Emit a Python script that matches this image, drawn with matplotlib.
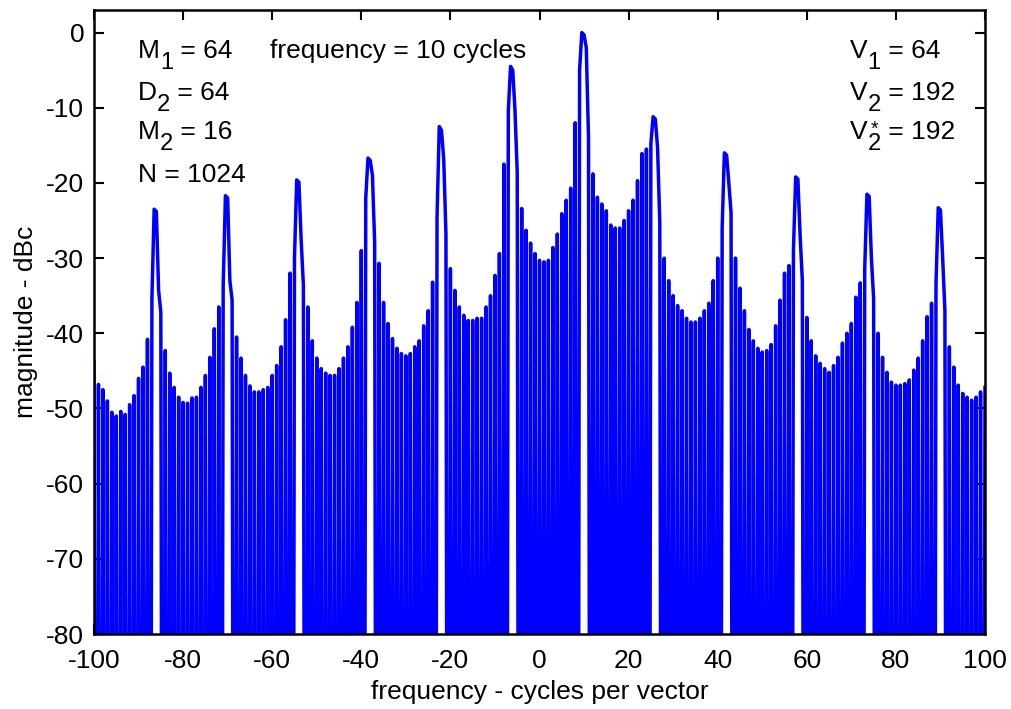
import numpy as np
import matplotlib
matplotlib.use("Agg")
import matplotlib.pyplot as plt

plt.rcParams['font.family'] = ['Liberation Sans', 'DejaVu Sans']
plt.rcParams['axes.unicode_minus'] = False

# envelope of the spectrum at each whole cycle, -100 .. 100 (dBc)
env_db = [
    -43.8, -46.8, -47.5, -49.0, -50.5, -51.0, -50.4, -50.8, -49.5, -48.3,
    -46.0, -44.5, -40.8, -35.4, -23.8, -37.2, -42.3, -45.3, -47.2, -48.5,
    -49.2, -49.3, -48.6, -48.5, -47.2, -45.6, -43.2, -39.4, -36.5, -33.6,
    -22.0, -35.6, -40.5, -43.3, -45.6, -47.0, -47.8, -47.8, -47.5, -47.2,
    -45.6, -44.3, -41.8, -38.2, -32.0, -30.0, -19.9, -33.6, -36.5, -41.0,
    -43.3, -44.7, -45.3, -45.6, -45.6, -44.7, -43.3, -41.8, -39.2, -35.9,
    -29.0, -22.0, -17.0, -28.0, -30.7, -35.9, -38.7, -40.7, -42.0, -42.7,
    -43.0, -42.7, -41.8, -41.0, -39.0, -37.0, -33.2, -24.6, -13.0, -26.8,
    -31.4, -34.3, -36.5, -37.6, -38.3, -38.3, -38.0, -38.0, -36.5, -35.0,
    -32.3, -29.4, -17.5, -10.5, -5.0, -18.6, -23.4, -26.3, -28.0, -29.4,
    -30.3, -30.5, -30.3, -28.6, -26.8, -24.1, -22.3, -20.7, -12.0, -5.0,
    -0.3, -14.0, -18.8, -21.9, -22.8, -23.7, -25.6, -26.0, -26.0, -25.0,
    -23.7, -22.3, -19.7, -16.1, -15.5, -14.8, -11.5, -25.2, -30.0, -33.0,
    -35.0, -36.3, -37.0, -38.0, -38.5, -38.5, -38.0, -37.0, -36.0, -33.0,
    -30.0, -26.0, -16.3, -24.0, -30.0, -34.0, -37.0, -39.5, -41.0, -42.0,
    -42.5, -42.3, -41.5, -39.0, -35.6, -32.0, -31.0, -29.0, -19.5, -33.0,
    -37.9, -41.0, -43.0, -44.0, -44.7, -45.2, -44.3, -43.2, -41.3, -40.0,
    -38.7, -35.2, -33.3, -31.5, -21.8, -35.4, -40.0, -43.2, -45.2, -46.5,
    -46.9, -46.9, -46.7, -46.2, -44.9, -43.3, -41.0, -37.8, -36.0, -33.4,
    -23.6, -37.0, -41.8, -44.5, -46.9, -48.0, -48.5, -48.9, -48.5, -47.8,
    -47.2,
]

# spectral images of the 10 cycle tone
peak_freq = [-86, -70, -54, -38, -22, -6, 10, 26, 42, 58, 74, 90]
peak_top_db = [-23.5, -21.7, -19.6, -16.7, -12.5, -4.5, 0.0, -11.2, -16.0, -19.2, -21.5, -23.3]
peak_fall_db = [-34.3, -33.0, -27.6, -19.0, -16.8, -10.4, -2.0, -15.3, -20.0, -27.0, -30.0, -30.0]

null_db = -200.0   # nulls between bins, far below the axis

freq = np.arange(-100, 100.5, 0.5)
mag = np.full(len(freq), null_db)
mag[0::2] = env_db
for p, top, fall in zip(peak_freq, peak_top_db, peak_fall_db):
    mag[int((p - 0.5 + 100) * 2)] = top
    mag[int((p + 0.5 + 100) * 2)] = fall

W, H = 1011, 709
FS = 19
fig = plt.figure(figsize=(W / 100, H / 100), dpi=100)
ax = fig.add_axes([94 / W, 75 / H, (985 - 94) / W, (634 - 10) / H])

ax.plot(freq, mag, color='#0000ff', lw=2.5)
ax.set_xlim(-100, 100)
ax.set_ylim(-80, 3)
ax.set_xticks(np.arange(-100, 101, 20))
ax.set_yticks(np.arange(-80, 1, 10))
ax.tick_params(direction='in', top=True, right=True, length=7, width=1.5,
               labelsize=FS)
ax.tick_params(axis='x', pad=11)
ax.tick_params(axis='y', pad=7)
for s in ax.spines.values():
    s.set_linewidth(1.8)
ax.set_xlabel('frequency - cycles per vector', fontsize=FS, labelpad=5)
ax.set_ylabel('magnitude - dBc', fontsize=FS, labelpad=6)

renderer = fig.canvas.get_renderer()


def put(parts, x0, base):
    # parts: (text, dx, dy pixels down, size scale, advance?)
    x = x0
    nx = x0
    for s, dx, dy, sc, adv in parts:
        t = fig.text((x + dx) / W, 1 - (base + dy) / H, s, fontsize=FS * sc,
                     ha='left', va='baseline')
        bb = t.get_window_extent(renderer)
        nx = max(nx, bb.x1)
        if adv:
            x = nx


rows = [58, 100, 139, 182]
put([('M', 0, 0, 1, 1), ('1', 0, 11, 0.9, 1), (' = 64', 0, 0, 1, 1)], 138, rows[0])
put([('D', 0, 0, 1, 1), ('2', 0, 11, 0.9, 1), (' = 64', 0, 0, 1, 1)], 138, rows[1])
put([('M', 0, 0, 1, 1), ('2', 0, 11, 0.9, 1), (' = 16', 0, 0, 1, 1)], 138, rows[2])
put([('N = 1024', 0, 0, 1, 1)], 138, rows[3])
put([('frequency = 10 cycles', 0, 0, 1, 1)], 270, rows[0])
put([('V', 0, 0, 1, 1), ('1', 0, 11, 0.9, 1), (' = 64', 0, 0, 1, 1)], 850, rows[0])
put([('V', 0, 0, 1, 1), ('2', 0, 11, 0.9, 1), (' = 192', 0, 0, 1, 1)], 850, rows[1])
put([('V', 0, 0, 1, 1), ('*', 3, -4, 0.75, 0), ('2', 0, 11, 0.9, 1),
     (' = 192', 0, 0, 1, 1)], 850, rows[2])

fig.savefig('out.png', dpi=100)
